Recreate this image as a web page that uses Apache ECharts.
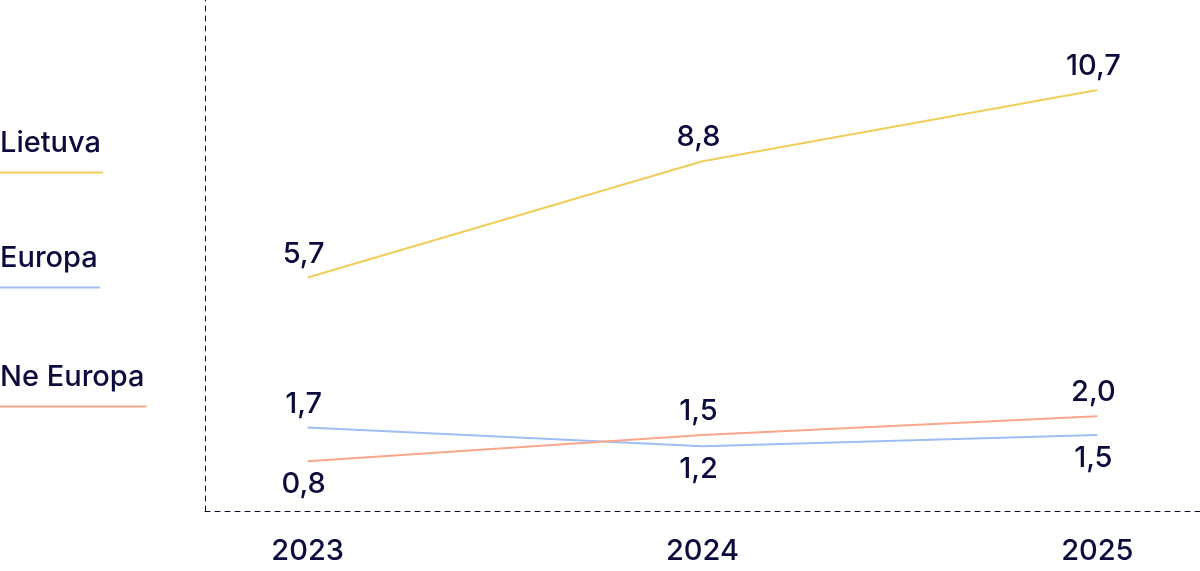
<!DOCTYPE html>
<html>
<head>
<meta charset="utf-8">
<script src="https://cdn.jsdelivr.net/npm/echarts@6/dist/echarts.min.js"></script>
<style>
html, body { margin: 0; padding: 0; background: #fff; }
#chart { width: 1200px; height: 571px; }
</style>
</head>
<body>
<div id="chart"></div>
<script>
var years = [2023, 2024, 2025];
var seriesNames = ['Lietuva', 'Europa', 'Ne Europa'];
var lietuva = [5.7, 8.8, 10.7];
var europa = [1.7, 1.2, 1.5];
var neEuropa = [0.8, 1.5, 2.0];

var colors = ['#f0cd5a', '#9dbdf4', '#f8a68c'];
var ink = '#0b0b3d';
var font = 'Inter';
var fontSize = 29;
var labelPos = [
	['top', 'top', 'top'],
	['top', 'bottom', 'bottom'],
	['bottom', 'top', 'top']
];

var chart = echarts.init(document.getElementById('chart'));

function makeSeries(name, vals, idx) {
	return {
		name: name,
		type: 'line',
		data: vals.map(function (v, i) {
			return {
				value: [years[i], v],
				label: { position: labelPos[idx][i] }
			};
		}),
		symbol: 'circle',
		symbolSize: 0,
		showSymbol: true,
		itemStyle: { color: colors[idx] },
		lineStyle: { color: colors[idx], width: 2 },
		label: {
			show: true,
			distance: 9,
			color: ink,
			fontFamily: font,
			fontWeight: 500,
			fontSize: fontSize,
			offset: [-4, 0],
			formatter: function (p) {
				return p.value[1].toFixed(1).replace('.', ',');
			}
		},
		silent: true
	};
}

// legend: name with underline of same width
var ctx = document.createElement('canvas').getContext('2d');
ctx.font = '500 ' + fontSize + 'px ' + font;
var legendBase = [152, 267, 386];
var graphics = [];
seriesNames.forEach(function (n, i) {
	var w = ctx.measureText(n).width;
	graphics.push({
		type: 'text', x: 0, y: legendBase[i] - 23,
		style: { text: n, fill: ink, font: '500 ' + fontSize + 'px ' + font }
	});
	graphics.push({
		type: 'line', x: 0, y: legendBase[i] + 20.5,
		shape: { x1: 0, y1: 0, x2: w + 2, y2: 0 },
		style: { stroke: colors[i], lineWidth: 2 }
	});
});

chart.setOption({
	animation: false,
	grid: { left: 205, right: 0, top: 0, bottom: 60 },
	xAxis: {
		type: 'value',
		min: 2022.74,
		max: 2025.26,
		splitLine: { show: false },
		axisTick: { show: false },
		axisLine: {
			onZero: false,
			lineStyle: { color: ink, width: 1, type: [5, 5] }
		},
		axisLabel: {
			customValues: years,
			color: ink,
			fontFamily: font,
			fontWeight: 500,
			fontSize: fontSize,
			margin: 26,
			formatter: function (v) { return String(v); }
		}
	},
	yAxis: {
		type: 'value',
		min: -0.53,
		max: 13.1,
		splitLine: { show: false },
		axisTick: { show: false },
		axisLabel: { show: false },
		axisLine: {
			show: true,
			onZero: false,
			lineStyle: { color: ink, width: 1, type: [5, 5] }
		}
	},
	graphic: graphics,
	series: [
		makeSeries(seriesNames[0], lietuva, 0),
		makeSeries(seriesNames[1], europa, 1),
		makeSeries(seriesNames[2], neEuropa, 2)
	]
});
</script>
</body>
</html>
